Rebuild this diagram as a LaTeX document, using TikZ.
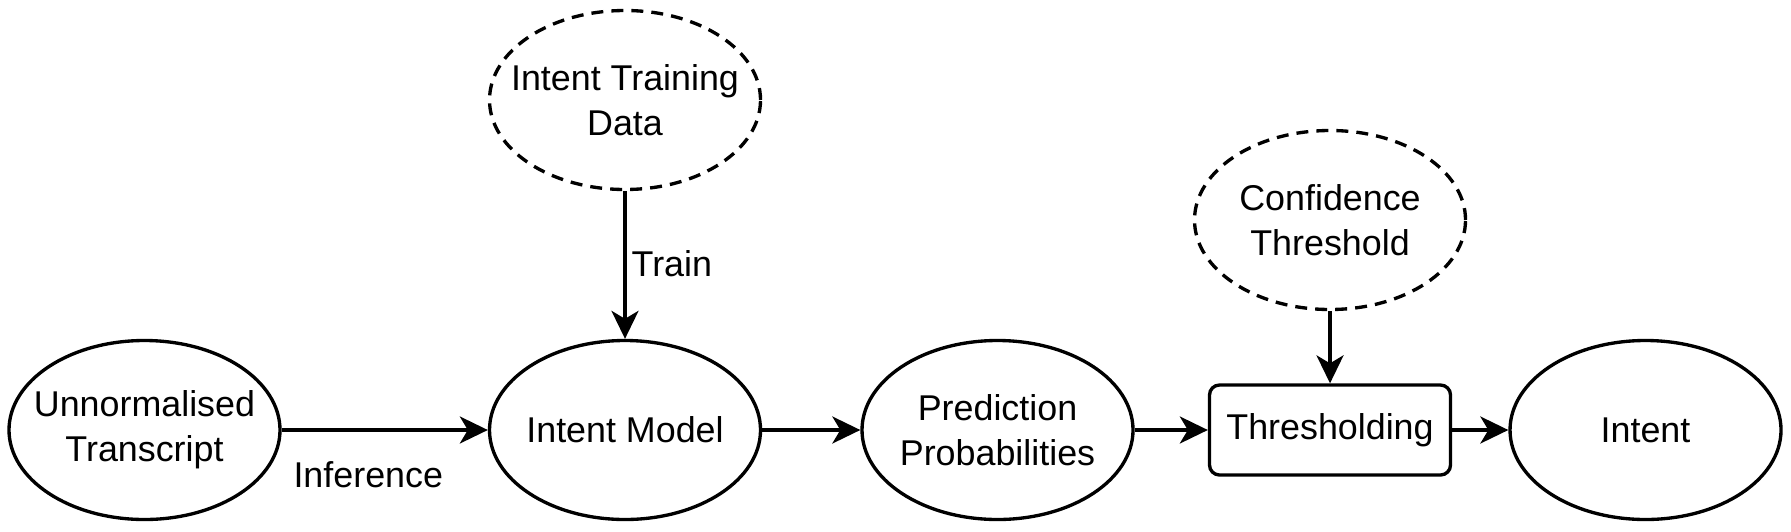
\documentclass[tikz,border=0pt]{standalone}
\usepackage{fontspec}
\setmainfont{Liberation Sans}
\usetikzlibrary{arrows,arrows.meta}
\usetikzlibrary{shapes.geometric}

\begin{document}
\begin{tikzpicture}[line width=0.95pt,
    ell/.style={draw=black,ellipse,minimum width=2.71cm,minimum height=1.79cm,inner sep=0pt},
    dell/.style={ell,dash pattern=on 3.4pt off 2.3pt},
    txt/.style={align=center,font=\fontsize{10.2pt}{12.8pt}\selectfont},
    box/.style={draw=black,rectangle,rounded corners=0.1cm,minimum width=2.41cm,minimum height=0.9cm},
    arr/.style={-{Stealth[length=0.28cm,width=0.27cm,inset=0.08cm]}}]
    \useasboundingbox (0,0) rectangle (17.91,-5.31);

    \node[ell,label={[txt]center:Unnormalised\\Transcript}] (trans) at (1.445,-4.30) {};
    \node[dell,label={[txt]center:Intent Training\\Data}] (data) at (6.25,-1.00) {};
    \node[ell,label={[txt]center:Intent Model}] (model) at (6.25,-4.30) {};
    \node[ell,label={[txt]center:Prediction\\Probabilities}] (prob) at (9.975,-4.30) {};
    \node[dell,label={[txt]center:Confidence\\Threshold}] (conf) at (13.30,-2.20) {};
    \node[box,txt] (thr) at (13.30,-4.30) {Thresholding};
    \node[ell,label={[txt]center:Intent}] (intent) at (16.455,-4.30) {};

    \draw[arr] (trans.east) -- node[txt,below=0.18cm,pos=0.42] (inf) {Inference} (model.west);
    \draw[arr] (data.south) -- node[txt,right,pos=0.49,inner sep=0.05cm] (train) {Train} (model.north);
    \draw[arr] (model.east) -- (prob.west);
    \draw[arr] (prob.east) -- (thr.west);
    \draw[arr] (conf.south) -- (thr.north);
    \draw[arr] (thr.east) -- (intent.west);
\end{tikzpicture}
\end{document}
